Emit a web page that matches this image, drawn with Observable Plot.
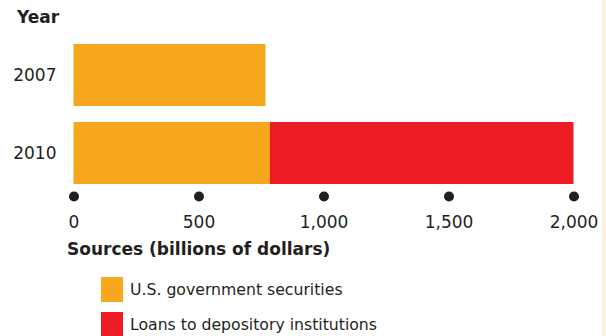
<!DOCTYPE html>
<html>
<head>
<meta charset="utf-8">
<script src="https://cdn.jsdelivr.net/npm/d3@7"></script>
<script src="https://cdn.jsdelivr.net/npm/@observablehq/plot@0.6"></script>
<style>
  html, body { margin: 0; padding: 0; background: #fff; }
  #wrap { position: relative; width: 606px; height: 336px; overflow: hidden; background: #fff;
          font-family: "DejaVu Sans", sans-serif; color: #231f20; }
  #edge { position: absolute; left: 602px; top: 0; width: 4px; height: 336px; background: #fdf0dc; }
  #title { position: absolute; left: 17px; top: 7px; font-weight: bold; font-size: 17px; }
  #xlabel { position: absolute; left: 67px; top: 239px; font-weight: bold; font-size: 17px; }
  .leg { position: absolute; left: 101px; display: flex; align-items: center; font-size: 15.7px; }
  .sw { width: 22px; height: 25px; margin-right: 7px; }
  #chart { position: absolute; left: 0; top: 0; }
</style>
</head>
<body>
<div id="wrap">
  <div id="chart"></div>
  <div id="title">Year</div>
  <div id="xlabel">Sources (billions of dollars)</div>
  <div id="legend"></div>
  <div id="edge"></div>
</div>
<script>
const years = ["2007", "2010"];
const govSecurities = [768, 786];
const loansDepository = [0, 1214];
const seriesNames = ["U.S. government securities", "Loans to depository institutions"];
const seriesColors = ["#F7A71E", "#ED1C24"];
const xTicks = [0, 500, 1000, 1500, 2000];

const data = years.flatMap((yr, i) => [
  {year: yr, series: seriesNames[0], value: govSecurities[i]},
  {year: yr, series: seriesNames[1], value: loansDepository[i]}
]);

const fmt = d3.format(",");

const chart = Plot.plot({
  width: 606,
  height: 236,
  marginLeft: 73.5,
  marginRight: 32.5,
  marginTop: 0,
  marginBottom: 40,
  style: {fontFamily: "DejaVu Sans, sans-serif", fontSize: "17px", color: "#231f20", background: "transparent"},
  x: {domain: [0, 2000], label: null},
  y: {domain: years, range: [44, 184], paddingInner: 16 / 78, paddingOuter: 0, label: null},
  color: {domain: seriesNames, range: seriesColors},
  marks: [
    Plot.barX(data, Plot.stackX({y: "year", x: "value", fill: "series", order: seriesNames})),
    Plot.dot(xTicks, {x: d => d, frameAnchor: "bottom", r: 5, fill: "#231f20", stroke: "none"}),
    Plot.axisX({ticks: xTicks, tickSize: 0, tickPadding: 19, tickFormat: fmt, fontSize: 17, label: null}),
    Plot.axisY({tickSize: 0, tickPadding: 17.5, fontSize: 17, label: null})
  ]
});
document.getElementById("chart").appendChild(chart);

const legend = document.getElementById("legend");
const legTops = [277, 312];
seriesNames.forEach((name, i) => {
  const row = document.createElement("div");
  row.className = "leg";
  row.style.top = legTops[i] + "px";
  const sw = document.createElement("div");
  sw.className = "sw";
  sw.style.background = seriesColors[i];
  const tx = document.createElement("span");
  tx.textContent = name;
  row.appendChild(sw);
  row.appendChild(tx);
  legend.appendChild(row);
});
</script>
</body>
</html>
